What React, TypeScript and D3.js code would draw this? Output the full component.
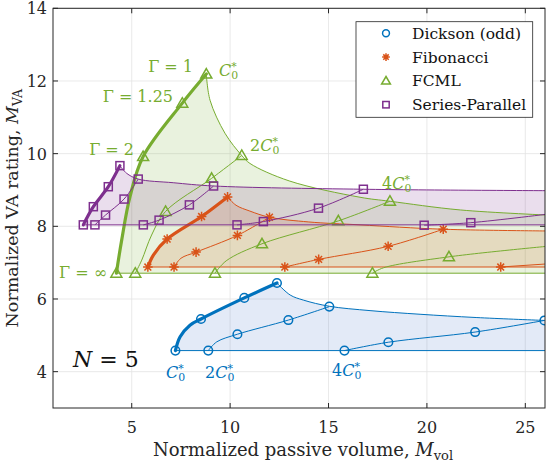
import React from "react";
import * as d3 from "d3";

// [x, y, marker?] points; marker = 1 draws a symbol
type P = [number, number, number?];

const xTicks = [5, 10, 15, 20, 25];
const yTicks = [4, 6, 8, 10, 12, 14];

// Dickson (odd)
const dicksonThick: P[] = [[7.22, 4.58, 1], [7.46, 4.96], [7.96, 5.28], [8.52, 5.45, 1], [10.72, 6.03, 1], [12.38, 6.44, 1]];
const dicksonChains: P[][] = [
  [[8.89, 4.58, 1], [9.32, 4.82], [10.37, 5.03, 1], [12.96, 5.42, 1], [15.04, 5.79, 1]],
  [[15.81, 4.58, 1], [18.04, 4.81, 1], [22.45, 5.09, 1], [25.97, 5.41, 1]],
];
const dicksonEnvelope: P[] = [[12.38, 6.44], [13.05, 6.11], [13.72, 5.97], [15.04, 5.8], [17.11, 5.68], [19.65, 5.58], [22.5, 5.49], [25.97, 5.41], [26.5, 5.4]];
const dicksonBase = 4.58;

// Fibonacci
const fibThick: P[] = [[5.82, 6.88, 1], [6.1, 7.21], [6.8, 7.65, 1], [8.55, 8.27, 1], [9.87, 8.81, 1]];
const fibChains: P[][] = [
  [[7.15, 6.88, 1], [7.5, 7.12], [8.27, 7.29, 1], [10.37, 7.75, 1], [12.0, 8.25, 1]],
  [[12.78, 6.88, 1], [14.5, 7.09, 1], [18.03, 7.45, 1], [20.83, 7.92, 1]],
  [[23.75, 6.88, 1], [26.5, 6.98]],
];
const fibEnvelope: P[] = [[9.87, 8.81], [10.3, 8.58], [11.0, 8.42], [12.0, 8.25], [14.0, 8.12], [16.6, 8.04], [20.83, 7.92], [26.5, 7.87]];
const fibBase = 6.88;

// FCML
const fcmlThick: P[] = [[4.22, 6.71, 1], [4.49, 7.62], [4.91, 8.81], [5.58, 9.92, 1], [7.57, 11.39, 1], [8.79, 12.19, 1]];
const fcmlChains: P[][] = [
  [[5.18, 6.71, 1], [5.51, 7.07], [6.01, 7.76], [6.72, 8.41, 1], [9.06, 9.32, 1], [10.59, 9.95, 1]],
  [[9.23, 6.71, 1], [9.8, 7.05], [11.62, 7.52, 1], [15.5, 8.15, 1], [18.12, 8.69, 1]],
  [[17.23, 6.71, 1], [17.8, 6.86], [21.12, 7.16, 1], [26.5, 7.47]],
];
const fcmlEnvelope: P[] = [[8.79, 12.19], [8.98, 11.47], [9.74, 10.56], [10.59, 9.95], [11.01, 9.73], [13.0, 9.25], [16.6, 8.8], [18.12, 8.69], [21.7, 8.45], [26.5, 8.3]];
const fcmlBase = 6.71;

// Series-Parallel
const spThick: P[] = [[2.54, 8.04, 1], [3.05, 8.54, 1], [3.81, 9.09, 1], [4.4, 9.67, 1]];
const spChains: P[][] = [
  [[3.13, 8.04, 1], [3.67, 8.31, 1], [4.61, 8.75, 1], [5.33, 9.3, 1]],
  [[5.59, 8.04, 1], [6.39, 8.17, 1], [7.93, 8.59, 1], [9.16, 9.11, 1]],
  [[10.35, 8.04, 1], [11.69, 8.13, 1], [14.49, 8.5, 1], [16.77, 9.02, 1]],
  [[19.86, 8.03, 1], [22.23, 8.1, 1], [26.5, 8.36]],
];
const spEnvelope: P[] = [[4.4, 9.67], [4.74, 9.46], [5.33, 9.3], [7.11, 9.2], [9.16, 9.11], [16.77, 9.02], [26.5, 8.98]];
const spBase = 8.04;

const names = ["Dickson (odd)", "Fibonacci", "FCML", "Series-Parallel"];
const colors = ["#0072BD", "#D95319", "#77AC30", "#7E2F8E"];
const fills = ["#4f7fd0", "#D95319", "#77AC30", "#7E2F8E"];
const markers = ["circle", "asterisk", "triangle", "square"];

const series = [
  { thick: dicksonThick, chains: dicksonChains, env: dicksonEnvelope, base: dicksonBase },
  { thick: fibThick, chains: fibChains, env: fibEnvelope, base: fibBase },
  { thick: fcmlThick, chains: fcmlChains, env: fcmlEnvelope, base: fcmlBase },
  { thick: spThick, chains: spChains, env: spEnvelope, base: spBase },
].map((s, i) => ({ ...s, name: names[i], color: colors[i], fill: fills[i], marker: markers[i] }));

const W = 550;
const H = 462;
const m = { left: 53, right: 545, top: 8.3, bottom: 408 };
const FONT = "'DejaVu Serif', serif";

const Marker = ({ type, x, y, color, s = 1 }) => {
  const common = { fill: "none", stroke: color, strokeWidth: 1.5 };
  if (type === "circle") return <circle cx={x} cy={y} r={4.3 * s} {...common} />;
  if (type === "square") return <rect x={x - 4 * s} y={y - 4 * s} width={8 * s} height={8 * s} {...common} />;
  if (type === "triangle")
    return <path d={`M${x},${y - 5.5 * s}L${x + 5.5 * s},${y + 4 * s}L${x - 5.5 * s},${y + 4 * s}Z`} {...common} />;
  const r = 4.8 * s;
  const d = r * 0.707;
  return (
    <path
      d={`M${x - r},${y}L${x + r},${y}M${x},${y - r}L${x},${y + r}M${x - d},${y - d}L${x + d},${y + d}M${x - d},${y + d}L${x + d},${y - d}`}
      {...common}
    />
  );
};

const CStar = ({ x, y, prefix = "", color, size = 16 }) => (
  <text x={x} y={y} fill={color} fontFamily={FONT} fontSize={size}>
    {prefix}
    <tspan fontStyle="italic">C</tspan>
    <tspan fontSize={size * 0.68} dy={size * 0.2}>0</tspan>
    <tspan fontSize={size * 0.68} dx={-size * 0.43} dy={-size * 0.6}>*</tspan>
  </text>
);

export default function App() {
  const x = d3.scaleLinear().domain([1, 26]).range([m.left, m.right]);
  const y = d3.scaleLinear().domain([3, 14]).range([m.bottom, m.top]);
  const line = d3
    .line<P>()
    .x((d) => x(d[0]))
    .y((d) => y(d[1]))
    .curve(d3.curveCatmullRom.alpha(0.5));

  const fillPath = (s) => {
    const a = line(s.thick) || "";
    const b = (line(s.env) || "").replace(/^M/, "L");
    const last = s.env[s.env.length - 1];
    return `${a}${b}L${x(last[0])},${y(s.base)}L${x(s.thick[0][0])},${y(s.base)}Z`;
  };

  return (
    <div style={{ position: "absolute", left: 0, top: 0 }}>
      <svg width={W} height={H} style={{ display: "block", background: "#fff" }}>
        <defs>
          <clipPath id="plot">
            <rect x={m.left} y={m.top} width={m.right - m.left} height={m.bottom - m.top} />
          </clipPath>
        </defs>

        {/* grid */}
        {xTicks.map((t) => (
          <line key={"gx" + t} x1={x(t)} x2={x(t)} y1={m.top} y2={m.bottom} stroke="#e3e3e3" strokeWidth={0.8} />
        ))}
        {yTicks.map((t) => (
          <line key={"gy" + t} x1={m.left} x2={m.right} y1={y(t)} y2={y(t)} stroke="#e3e3e3" strokeWidth={0.8} />
        ))}

        <g clipPath="url(#plot)">
          {series.map((s) => (
            <path key={"f" + s.name} d={fillPath(s)} fill={s.fill} fillOpacity={0.16} stroke="none" />
          ))}
          {series.map((s) => (
            <g key={"l" + s.name}>
              <line x1={x(s.thick[0][0])} x2={m.right + 5} y1={y(s.base)} y2={y(s.base)} stroke={s.color} strokeWidth={1} />
              <path d={line(s.env) || ""} fill="none" stroke={s.color} strokeWidth={1} />
              {s.chains.map((c, i) => (
                <path key={i} d={line(c) || ""} fill="none" stroke={s.color} strokeWidth={1} />
              ))}
              <path d={line(s.thick) || ""} fill="none" stroke={s.color} strokeWidth={3.2} strokeLinecap="round" />
              {[s.thick, ...s.chains].flat().filter((p) => p[2]).map((p, i) => (
                <Marker key={i} type={s.marker} x={x(p[0])} y={y(p[1])} color={s.color} />
              ))}
            </g>
          ))}
        </g>

        {/* axes box and ticks */}
        <rect x={m.left} y={m.top} width={m.right - m.left} height={m.bottom - m.top} fill="none" stroke="#262626" strokeWidth={1} />
        {xTicks.map((t) => (
          <g key={"tx" + t}>
            <line x1={x(t)} x2={x(t)} y1={m.bottom} y2={m.bottom - 5} stroke="#262626" />
            <line x1={x(t)} x2={x(t)} y1={m.top} y2={m.top + 5} stroke="#262626" />
            <text x={x(t)} y={433} textAnchor="middle" fontFamily={FONT} fontSize={16} fill="#262626">
              {t}
            </text>
          </g>
        ))}
        {yTicks.map((t) => (
          <g key={"ty" + t}>
            <line x1={m.left} x2={m.left + 5} y1={y(t)} y2={y(t)} stroke="#262626" />
            <line x1={m.right} x2={m.right - 5} y1={y(t)} y2={y(t)} stroke="#262626" />
            <text x={47} y={y(t) + 6} textAnchor="end" fontFamily={FONT} fontSize={16} fill="#262626">
              {t}
            </text>
          </g>
        ))}

        {/* axis labels */}
        <text x={(m.left + m.right) / 2 + 4} y={456} textAnchor="middle" fontFamily={FONT} fontSize={18} fill="#262626">
          Normalized passive volume, <tspan fontStyle="italic">M</tspan>
          <tspan fontSize={13} dy={4}>vol</tspan>
        </text>
        <text
          transform={`translate(18,${(m.top + m.bottom) / 2}) rotate(-90)`}
          textAnchor="middle"
          fontFamily={FONT}
          fontSize={17.5}
          fill="#262626"
        >
          Normalized VA rating, <tspan fontStyle="italic">M</tspan>
          <tspan fontSize={12.5} dy={4}>VA</tspan>
        </text>

        {/* annotations */}
        <g fontFamily={FONT} fontSize={16} fill="#77AC30" textAnchor="end">
          <text x={193} y={72}>Γ = 1</text>
          <text x={173} y={102}>Γ = 1.25</text>
          <text x={134} y={155}>Γ = 2</text>
          <text x={107} y={278}>Γ = ∞</text>
        </g>
        <CStar x={219} y={76} color="#77AC30" />
        <CStar x={250} y={151} prefix="2" color="#77AC30" />
        <CStar x={382} y={189} prefix="4" color="#77AC30" />
        <CStar x={166} y={378} color="#0072BD" />
        <CStar x={205} y={378} prefix="2" color="#0072BD" />
        <CStar x={332} y={376} prefix="4" color="#0072BD" />
        <text x={73} y={367} fontFamily={FONT} fontSize={22} fill="#111">
          <tspan fontStyle="italic">N</tspan> = 5
        </text>

        {/* legend */}
        <rect x={356} y={21.7} width={176.7} height={95.6} fill="#fff" stroke="#262626" strokeWidth={0.8} />
        {series.map((s, i) => (
          <g key={"lg" + s.name}>
            <Marker type={s.marker} x={386} y={33.3 + i * 23.8} color={s.color} s={0.8} />
            <text x={412} y={33.3 + i * 23.8 + 5.5} fontFamily={FONT} fontSize={15.5} fill="#111">
              {s.name}
            </text>
          </g>
        ))}
      </svg>
    </div>
  );
}
